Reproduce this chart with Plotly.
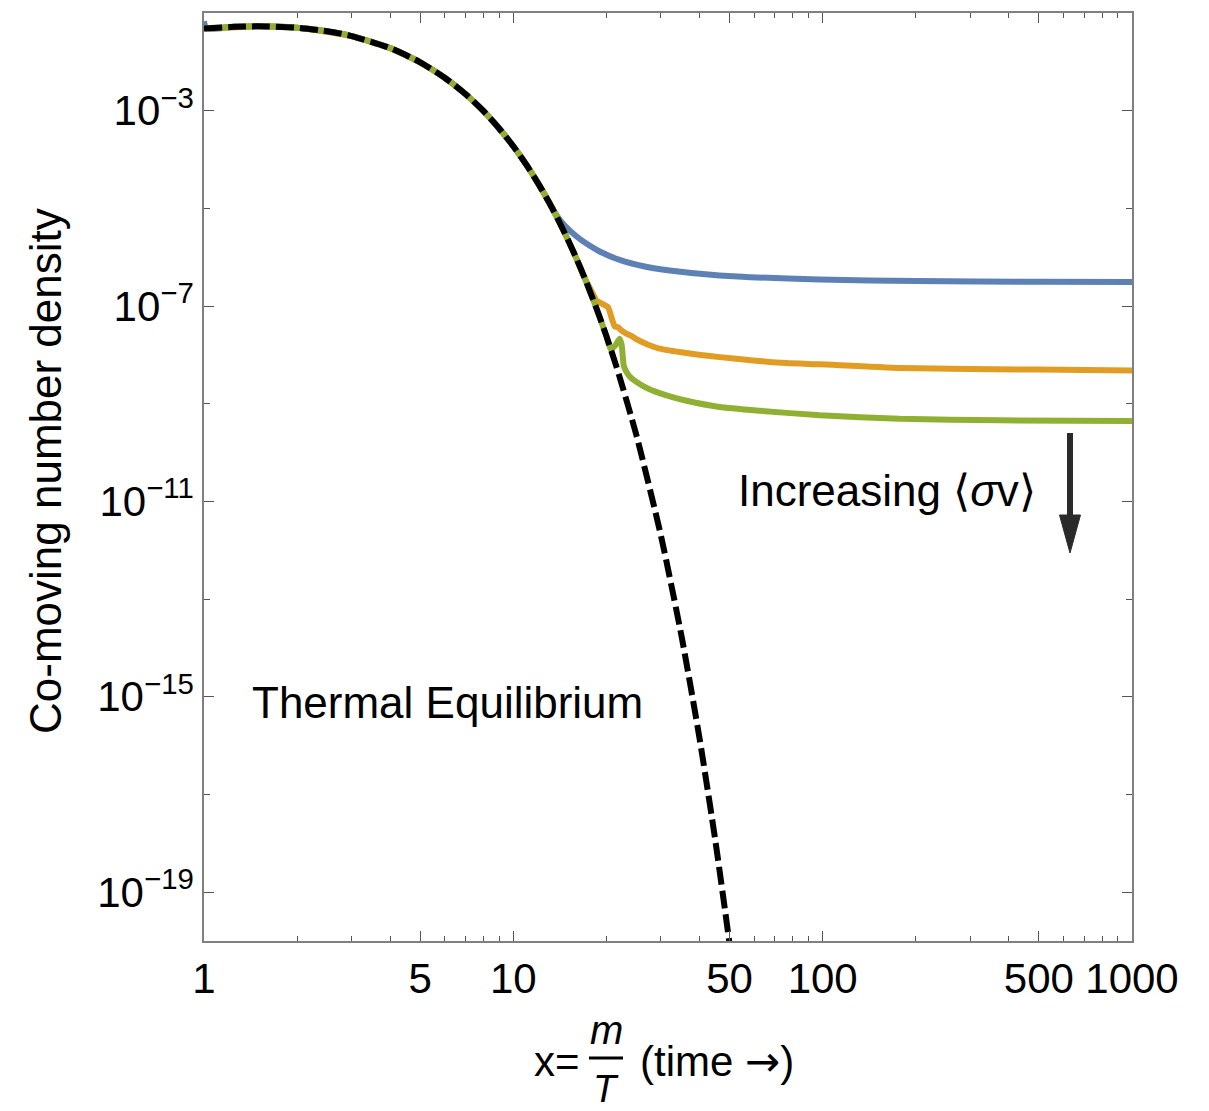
import plotly.graph_objects as go

# ---------------- data ----------------
eq_x = [1, 1.25, 1.5, 2, 2.5, 3, 4, 5, 6, 7, 8, 9, 10, 11, 12, 13, 14, 15, 16, 17,
        18, 19, 20, 21, 22, 25, 30, 35, 40, 45, 50]
eq_y = [4.79e-2, 5.20e-2, 5.33e-2, 4.98e-2, 4.22e-2, 3.37e-2, 1.91e-2, 9.8e-3, 4.73e-3,
        2.20e-3, 9.9e-4, 4.33e-4, 1.87e-4, 7.93e-5, 3.32e-5, 1.38e-5, 5.66e-6, 2.31e-6,
        9.35e-7, 3.78e-7, 1.51e-7, 6.03e-8, 2.40e-8, 9.48e-9, 3.74e-9, 2.26e-10,
        2.00e-12, 1.70e-14, 1.40e-16, 1.12e-18, 8.85e-21]

blue_x = [1, 1.02, 1.25, 1.5, 2, 2.5, 3, 4, 5, 6, 7, 8, 9, 10, 11, 12, 13, 13.8, 14.65,
          16.02, 17.52, 19.02, 22.07, 26.58, 32.03, 46.4, 97.8, 200, 500, 1000]
blue_y = [6.8e-2, 4.9e-2, 5.20e-2, 5.33e-2, 4.98e-2, 4.22e-2, 3.37e-2, 1.91e-2, 9.8e-3,
          4.73e-3, 2.20e-3, 9.9e-4, 4.33e-4, 1.87e-4, 7.93e-5, 3.32e-5, 1.40e-5, 7.2e-6,
          4.45e-6, 2.65e-6, 1.77e-6, 1.31e-6, 8.8e-7, 6.46e-7, 5.35e-7, 4.23e-7, 3.50e-7,
          3.24e-7, 3.13e-7, 3.09e-7]

orange_x = [1, 1.5, 2, 3, 4, 5, 6, 7, 8, 9, 10, 11, 12, 13, 14, 15, 16, 17, 17.9,
            18.56, 19.26, 20.23, 20.75, 21.27, 21.79, 22.35, 23.2, 24.07, 25.0, 26.5, 28.0,
            29.72, 36.27, 46.5, 59.6, 76.3, 97.9, 177.5, 500, 1000]
orange_y = [4.79e-2, 5.33e-2, 4.98e-2, 3.37e-2, 1.91e-2, 9.8e-3, 4.73e-3, 2.20e-3, 9.9e-4,
            4.33e-4, 1.87e-4, 7.93e-5, 3.32e-5, 1.38e-5, 5.66e-6, 2.31e-6, 9.35e-7,
            3.78e-7, 2.0e-7, 1.30e-7, 1.13e-7, 9.5e-8, 5.93e-8, 3.83e-8, 3.70e-8, 3.17e-8,
            2.72e-8, 2.45e-8, 2.10e-8, 1.75e-8, 1.52e-8, 1.34e-8, 1.09e-8, 9.0e-9, 7.7e-9,
            6.8e-9, 6.4e-9, 5.4e-9, 5.0e-9, 4.8e-9]

green_x = [1, 1.25, 1.5, 2, 2.5, 3, 4, 5, 6, 7, 8, 9, 10, 11, 12, 13, 14, 15, 16, 17,
           18, 19, 20, 20.64, 21.4, 22.07, 22.4, 22.75, 23.07, 23.77, 24.86, 26.58, 28.64,
           32.03, 36.35, 46.4, 62.6, 97.9, 177.5, 374, 1000]
green_y = [4.79e-2, 5.20e-2, 5.33e-2, 4.98e-2, 4.22e-2, 3.37e-2, 1.91e-2, 9.8e-3, 4.73e-3,
           2.20e-3, 9.9e-4, 4.33e-4, 1.87e-4, 7.93e-5, 3.32e-5, 1.38e-5, 5.66e-6, 2.31e-6,
           9.35e-7, 3.78e-7, 1.51e-7, 6.03e-8, 2.40e-8, 1.32e-8, 1.58e-8, 2.14e-8, 1.58e-8,
           6.0e-9, 4.82e-9, 3.63e-9, 2.87e-9, 2.22e-9, 1.79e-9, 1.42e-9, 1.15e-9, 8.6e-10,
           7.2e-10, 5.8e-10, 4.9e-10, 4.57e-10, 4.43e-10]

x_tick_vals = [1, 5, 10, 50, 100, 500, 1000]
x_tick_text = ["1", "5", "10", "50", "100", "500", "1000"]
x_minor_vals = [2, 3, 4, 6, 7, 8, 9, 20, 30, 40, 60, 70, 80, 90, 200, 300, 400, 600, 700, 800, 900]
y_tick_vals = [1e-3, 1e-7, 1e-11, 1e-15, 1e-19]
y_tick_text = ["10<sup>−3</sup>", "10<sup>−7</sup>", "10<sup>−11</sup>", "10<sup>−15</sup>", "10<sup>−19</sup>"]
y_minor_vals = [1e-5, 1e-9, 1e-13, 1e-17]

BLUE = "#5E81B5"
ORANGE = "#E19C24"
GREEN = "#8FB032"

FONT = "Liberation Sans, Arial, sans-serif"

fig = go.Figure()
fig.add_trace(go.Scatter(x=blue_x, y=blue_y, mode="lines", line=dict(color=BLUE, width=6, shape="spline", smoothing=0.8)))
fig.add_trace(go.Scatter(x=orange_x, y=orange_y, mode="lines", line=dict(color=ORANGE, width=6, shape="spline", smoothing=0.5)))
fig.add_trace(go.Scatter(x=green_x, y=green_y, mode="lines", line=dict(color=GREEN, width=6, shape="spline", smoothing=0.5)))
fig.add_trace(go.Scatter(x=eq_x, y=eq_y, mode="lines", line=dict(color="black", width=6, dash="18px,6px", shape="spline", smoothing=0.6)))

L, R, T, B = 204, 77, 13, 170
W, H = 1209, 1111
pw, ph = W - L - R, H - T - B


def px(xp):
    return (xp - L) / pw


def py(yp):
    return (H - B - yp) / ph


axis_common = dict(showline=True, linecolor="#808080", linewidth=1.5, mirror="ticks",
                   ticks="inside", tickcolor="#555555", tickwidth=1.3, showgrid=False,
                   zeroline=False)

fig.update_xaxes(type="log", range=[0, 3], tickvals=x_tick_vals, ticktext=x_tick_text,
                 tickangle=0, ticklen=10, ticklabelstandoff=0,
                 tickfont=dict(family=FONT, size=42, color="black"),
                 minor=dict(tickvals=x_minor_vals, ticklen=5, ticks="inside", tickcolor="#555555", tickwidth=1.2, showgrid=False),
                 **axis_common)
fig.update_yaxes(type="log", range=[-20, -1], tickvals=y_tick_vals, ticktext=y_tick_text,
                 ticklen=10, tickfont=dict(family=FONT, size=42, color="black"),
                 minor=dict(tickvals=y_minor_vals, ticklen=6, ticks="inside", tickcolor="#555555", tickwidth=1.2, showgrid=False),
                 **axis_common)

annotations = [
    dict(text="Co-moving number density", x=px(45), y=py(471), textangle=-90,
         font=dict(family=FONT, size=44, color="black")),
    dict(text="Thermal Equilibrium", x=px(447), y=py(702), font=dict(family=FONT, size=44, color="black")),
    dict(text="Increasing ⟨<i>σ</i>v⟩", x=px(887), y=py(490), font=dict(family=FONT, size=44, color="black")),
    dict(text="x=", x=px(582), y=py(1061), xanchor="right", font=dict(family=FONT, size=42, color="black")),
    dict(text="<i>m</i>", x=px(606), y=py(1030), font=dict(family=FONT, size=40, color="black")),
    dict(text="<i>T</i>", x=px(606), y=py(1089), font=dict(family=FONT, size=38, color="black")),
    dict(text="(time <span style=\"font-family:DejaVu Sans\">→</span>)", x=px(638), y=py(1061),
         xanchor="left", font=dict(family=FONT, size=42, color="black")),
]
for a in annotations:
    a.setdefault("xanchor", "center")
    a.update(xref="paper", yref="paper", yanchor="middle", showarrow=False)

shapes = [
    dict(type="line", xref="paper", yref="paper", x0=px(589), x1=px(623), y0=py(1058), y1=py(1058),
         line=dict(color="black", width=3)),
    dict(type="line", xref="paper", yref="paper", x0=px(1070), x1=px(1070), y0=py(433), y1=py(520),
         line=dict(color="#2a2a2a", width=6)),
    dict(type="path", xref="paper", yref="paper",
         path=f"M {px(1059.5)} {py(515)} L {px(1080.5)} {py(515)} L {px(1070)} {py(553)} Z",
         fillcolor="#2a2a2a", line=dict(color="#2a2a2a", width=1)),
]

fig.update_layout(width=W, height=H, margin=dict(l=L, r=R, t=T, b=B),
                  paper_bgcolor="white", plot_bgcolor="white", showlegend=False,
                  annotations=annotations, shapes=shapes)

fig.write_html("out.html")
